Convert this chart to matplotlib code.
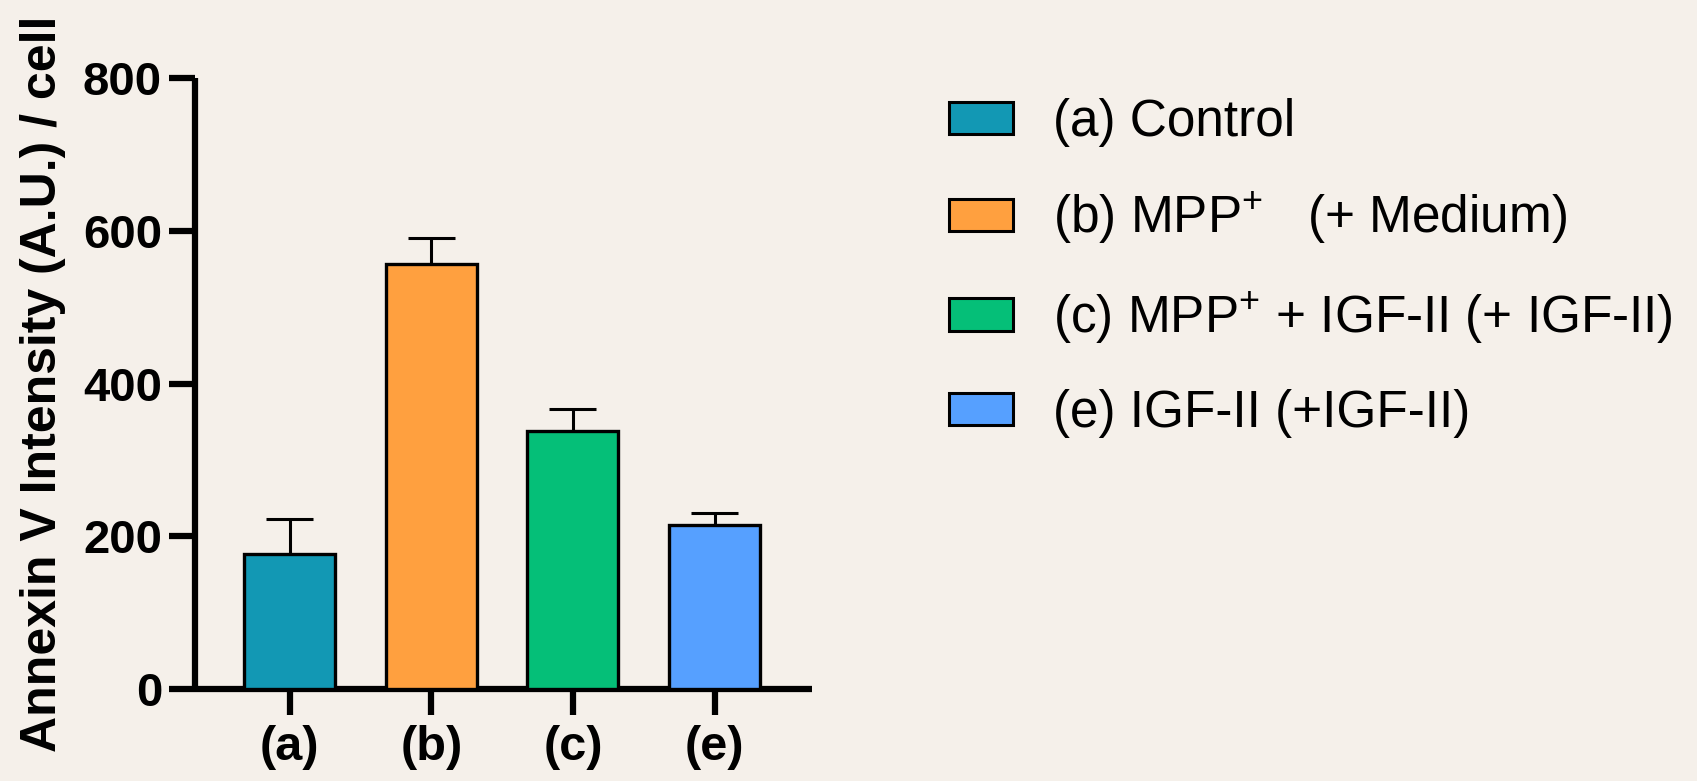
import numpy as np
import matplotlib.pyplot as plt
from matplotlib.patches import Patch

plt.rcParams['font.family'] = ['Liberation Sans', 'DejaVu Sans']
plt.rcParams['mathtext.fontset'] = 'custom'
plt.rcParams['mathtext.rm'] = 'Liberation Sans'
plt.rcParams['mathtext.it'] = 'Liberation Sans:italic'
plt.rcParams['mathtext.bf'] = 'Liberation Sans:bold'

# Annexin V staining per group (mean and upper SEM)
groups = ['(a)', '(b)', '(c)', '(e)']
means = [177, 556, 338, 215]
sems = [46, 35, 28, 15]
legend_labels = [
    '(a) Control',
    '(b) MPP$^{+}$   (+ Medium)',
    '(c) MPP$^{+}$ + IGF-II (+ IGF-II)',
    '(e) IGF-II (+IGF-II)',
]
colors = ['#1298B4', '#FFA03F', '#05BF78', '#56A0FF']
bg = '#F5F0EA'

fig = plt.figure(figsize=(16.97, 7.81), dpi=100, facecolor=bg)
ax = fig.add_axes([0.1149, 0.1178, 0.3634, 0.7823], facecolor=bg)

x = np.arange(len(groups))
bars = ax.bar(x, means, width=0.643, color=colors, edgecolor='black',
              linewidth=2.4, zorder=3)

# upper error bars only
tops = np.array(means) + np.array(sems)
ax.vlines(x, means, tops, color='black', linewidth=2.2, zorder=2)
ax.hlines(tops, x - 0.166, x + 0.166, color='black', linewidth=2.2, zorder=2)

ax.set_xlim(-0.669, 3.686)
ax.set_ylim(0, 800)
ax.set_yticks([0, 200, 400, 600, 800])
ax.set_xticks(x)
ax.set_xticklabels(groups)

for s in ['top', 'right']:
    ax.spines[s].set_visible(False)
for s in ['left', 'bottom']:
    ax.spines[s].set_linewidth(4.5)
    ax.spines[s].set_capstyle('butt')

ax.tick_params(axis='both', width=4.5, length=18.7, direction='out')
ax.tick_params(axis='y', labelsize=34, pad=5)
ax.tick_params(axis='x', labelsize=35, pad=7)
for lab in ax.get_xticklabels() + ax.get_yticklabels():
    lab.set_fontweight('bold')

ax.set_ylabel('Annexin V Intensity (A.U.) / cell', fontsize=36,
              fontweight='bold', labelpad=12)

handles = [Patch(facecolor=c, edgecolor='black', linewidth=2.2) for c in colors]
fig.legend(handles, legend_labels, loc='upper left',
           bbox_to_anchor=(949 / 1697, 1 - 98 / 781), frameon=False,
           fontsize=37, handlelength=1.25, handleheight=0.6,
           handletextpad=0.78, labelspacing=0.85, borderpad=0, borderaxespad=0)

fig.savefig('out.png', dpi=100, facecolor=bg)
